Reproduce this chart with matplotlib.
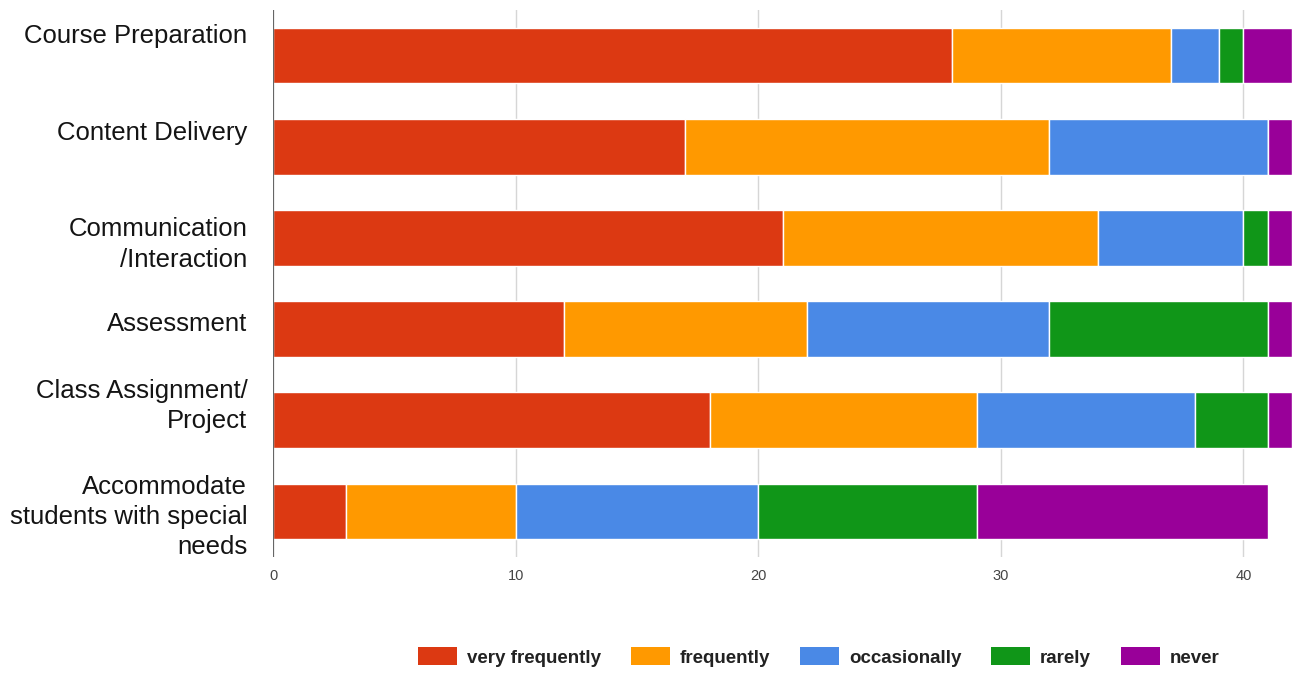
#!/usr/bin/env python3

import matplotlib
matplotlib.use("Agg")
import matplotlib.pyplot as plt
import matplotlib.transforms as mtransforms
from matplotlib.patches import Patch

# Survey responses per teaching activity (counts)
categories = [
    "Course Preparation",
    "Content Delivery",
    "Communication\n/Interaction",
    "Assessment",
    "Class Assignment/\nProject",
    "Accommodate\nstudents with special\nneeds",
]
series_names = ["very frequently", "frequently", "occasionally", "rarely", "never"]
very_frequently = [28, 17, 21, 12, 18, 3]
frequently = [9, 15, 13, 10, 11, 7]
occasionally = [2, 9, 6, 10, 9, 10]
rarely = [1, 0, 1, 9, 3, 9]
never = [2, 1, 1, 1, 1, 12]
colors = ["#dc3912", "#ff9900", "#4a89e6", "#109618", "#990099"]
x_ticks = [0, 10, 20, 30, 40]

# the category labels in the original sit a bit off the bar centres (pixels, +down)
label_shift_px = [-22, -16, 1, -8, -20, 0]

plt.rcParams["font.family"] = ["Liberation Sans", "DejaVu Sans"]

fig = plt.figure(figsize=(12.92, 6.73), dpi=100)
ax = fig.add_axes([273 / 1292, 1 - 557 / 673, 1 - 273 / 1292, (557 - 10) / 673])

values = [very_frequently, frequently, occasionally, rarely, never]
ypos = list(range(len(categories)))
left = [0] * len(categories)
for name, vals, col in zip(series_names, values, colors):
    ax.barh(ypos, vals, left=left, height=0.61, color=col,
            edgecolor="white", linewidth=1.0, zorder=3, label=name)
    left = [l + v for l, v in zip(left, vals)]

ax.set_xlim(0, 42)
ax.set_ylim(len(categories) - 0.5, -0.5)
ax.set_yticks(ypos)
ax.set_yticklabels(categories, fontsize=18.5, color="#141414", ha="right",
                   linespacing=1.33)
ax.tick_params(axis="y", length=0, pad=18.5)
for lbl, dy in zip(ax.get_yticklabels(), label_shift_px):
    shift = mtransforms.ScaledTranslation(0, -dy / 100, fig.dpi_scale_trans)
    lbl.set_transform(lbl.get_transform() + shift)

ax.set_xticks(x_ticks)
ax.set_xticklabels([str(t) for t in x_ticks], fontsize=10.5, color="#444444")
ax.tick_params(axis="x", length=0, pad=9)

for t in x_ticks[1:]:
    ax.axvline(t, color="#d6d6d6", linewidth=1.0, zorder=1)
ax.axvline(0, color="#666666", linewidth=1.6, zorder=4)

for s in ax.spines.values():
    s.set_visible(False)

handles = [Patch(facecolor=c, edgecolor="none") for c in colors]
leg = fig.legend(handles, series_names, loc="center", ncol=5,
                 bbox_to_anchor=(819 / 1292, 1 - 657 / 673), frameon=False,
                 handlelength=2.05, handleheight=1.05, handletextpad=0.55,
                 columnspacing=1.6,
                 prop={"size": 13.5, "weight": "bold"})
for txt in leg.get_texts():
    txt.set_color("#222222")

fig.savefig("out.png", dpi=100)
